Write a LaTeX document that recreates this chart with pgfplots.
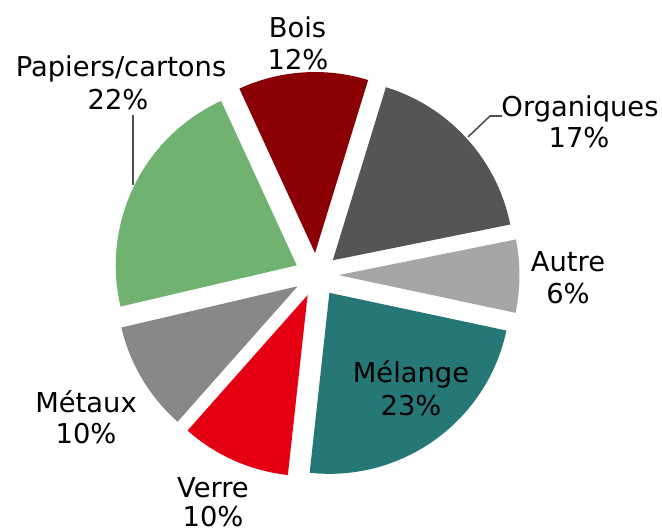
\documentclass[border=0pt]{standalone}
\usepackage{pgfplots}
\usepackage{pgfplotstable}
\pgfplotsset{compat=1.18}
\usepackage{fontspec}
\setmainfont{DejaVu Sans}
\definecolor{cBois}{RGB}{139,0,4}
\definecolor{cOrg}{RGB}{85,85,85}
\definecolor{cAutre}{RGB}{166,166,166}
\definecolor{cMel}{RGB}{38,120,118}
\definecolor{cVerre}{RGB}{228,0,18}
\definecolor{cMet}{RGB}{136,136,136}
\definecolor{cPap}{RGB}{112,178,112}
\definecolor{cLine}{RGB}{80,80,80}
\pgfplotstableread{
label value color
Bois 11.6 cBois
Organiques 17.1 cOrg
Autre 6.5 cAutre
Melange 23.4 cMel
Verre 9.8 cVerre
Metaux 9.8 cMet
Papiers 21.8 cPap
}\piedata
\begin{document}
\begin{tikzpicture}
\begin{axis}[
  x=0.75pt, y=0.75pt,
  xmin=0, xmax=662, ymin=0, ymax=532,
  hide axis, clip=false, scale only axis,
]
\path (axis cs:0,0) rectangle (axis cs:662,532);
\def\startang{114.7}
\pgfplotsforeachungrouped \i in {0,...,6}{%
  \pgfplotstablegetelem{\i}{value}\of\piedata \let\val\pgfplotsretval
  \pgfplotstablegetelem{\i}{color}\of\piedata \let\col\pgfplotsretval
  \pgfmathsetmacro\aend{\startang-3.6*\val}%
  \pgfmathsetmacro\amid{(\startang+\aend)/2}%
  \pgfmathsetmacro\tx{316.5+22*cos(\amid)}%
  \pgfmathsetmacro\ty{257+22*sin(\amid)}%
  \edef\cmd{\noexpand\fill[\col] (axis cs:\tx,\ty) -- ++(\startang:135.75pt) arc[start angle=\startang, end angle=\aend, radius=135.75pt] -- cycle;}%
  \cmd
  \global\let\startang\aend
}
% leader lines
\draw[cLine, line width=1.2pt] (axis cs:133,417) -- (axis cs:133,347);
\draw[cLine, line width=1.2pt] (axis cs:468,395) -- (axis cs:490,416) -- (axis cs:502,416);
% labels
\tikzset{lbl/.style={anchor=base, inner sep=0pt, font=\fontsize{20.5}{24}\selectfont, text=black}}
\node[lbl] at (axis cs:297.5,494) {Bois};
\node[lbl] at (axis cs:298,462) {12\%};
\node[lbl] at (axis cs:121,455) {Papiers/cartons};
\node[lbl] at (axis cs:118,422) {22\%};
\node[lbl] at (axis cs:580,415) {Organiques};
\node[lbl] at (axis cs:579,384) {17\%};
\node[lbl] at (axis cs:568,260) {Autre};
\node[lbl] at (axis cs:568,228) {6\%};
\node[lbl] at (axis cs:411,149) {Mélange};
\node[lbl] at (axis cs:411,116) {23\%};
\node[lbl] at (axis cs:86,119) {Métaux};
\node[lbl] at (axis cs:86,88) {10\%};
\node[lbl] at (axis cs:213,34) {Verre};
\node[lbl] at (axis cs:213,5) {10\%};
\end{axis}
\end{tikzpicture}
\end{document}
